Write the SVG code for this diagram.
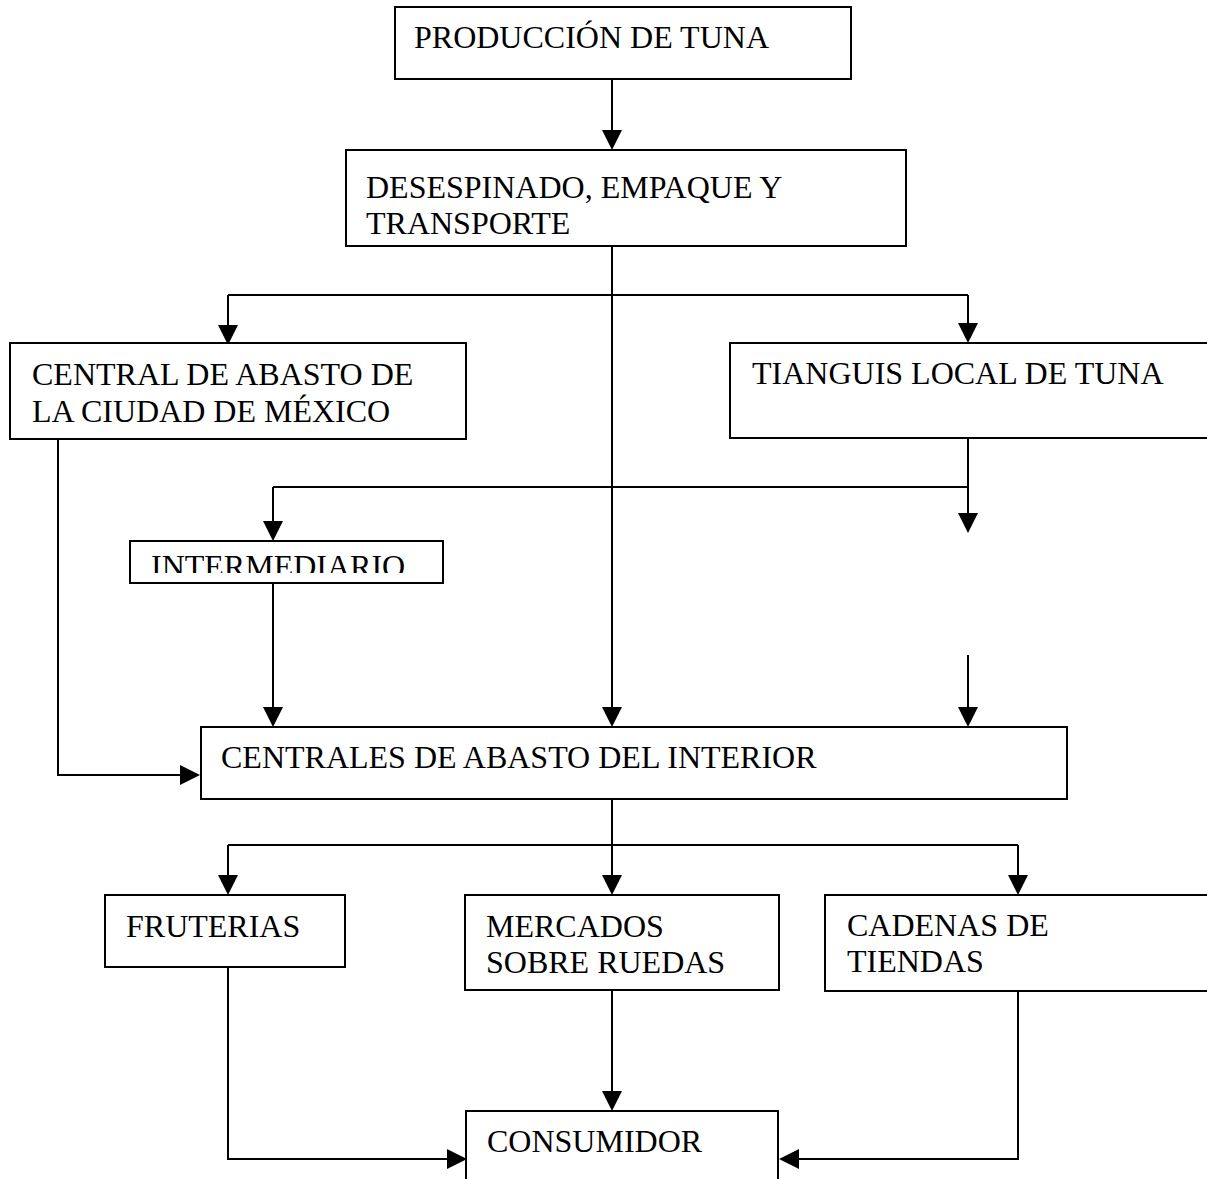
<svg xmlns="http://www.w3.org/2000/svg" width="1207" height="1179" viewBox="0 0 1207 1179">
<style>
.box{fill:#fff;stroke:#000;stroke-width:2}
.t{font-family:"Liberation Serif","Times New Roman",serif;font-size:32px;fill:#000}
.c{fill:none;stroke:#000;stroke-width:2}
.ah{fill:#000}
</style>
<defs>
<clipPath id="clipInt"><rect x="130" y="541" width="314" height="32"/></clipPath>
</defs>
<rect width="1207" height="1179" fill="#fff"/>
<g id="connectors">
<path class="c" d="M612,79V130"/>
<path class="c" d="M612,246V707"/>
<path class="c" d="M228,295H968"/>
<path class="c" d="M228,295V325"/>
<path class="c" d="M968,295V323"/>
<path class="c" d="M58,439V775H180"/>
<path class="c" d="M968,438V513"/>
<path class="c" d="M273,487H968"/>
<path class="c" d="M273,487V521"/>
<path class="c" d="M968,655V707"/>
<path class="c" d="M273,583V707"/>
<path class="c" d="M612,799V845"/>
<path class="c" d="M228,845H1018"/>
<path class="c" d="M228,845V875"/>
<path class="c" d="M612,845V875"/>
<path class="c" d="M1018,845V875"/>
<path class="c" d="M228,967V1159H447"/>
<path class="c" d="M612,990V1091"/>
<path class="c" d="M1018,991V1159H799"/>
<g class="ah">
<path d="M602,130H622L612,150Z"/>
<path d="M602,707H622L612,727Z"/>
<path d="M218,325H238L228,345Z"/>
<path d="M958,323H978L968,343Z"/>
<path d="M180,765V785L200,775Z"/>
<path d="M958,513H978L968,533Z"/>
<path d="M263,521H283L273,541Z"/>
<path d="M958,707H978L968,727Z"/>
<path d="M263,707H283L273,727Z"/>
<path d="M218,875H238L228,895Z"/>
<path d="M602,875H622L612,895Z"/>
<path d="M1008,875H1028L1018,895Z"/>
<path d="M447,1149V1169L467,1159Z"/>
<path d="M602,1091H622L612,1111Z"/>
<path d="M799,1149V1169L779,1159Z"/>
</g>
</g>
<g id="produccion"><rect class="box" x="395" y="7" width="456" height="72"/><text class="t" x="414" y="48">PRODUCCIÓN DE TUNA</text></g>
<g id="desespinado"><rect class="box" x="346" y="150" width="560" height="96"/><text class="t" x="366" y="198">DESESPINADO, EMPAQUE Y</text><text class="t" x="366" y="234">TRANSPORTE</text></g>
<g id="central"><rect class="box" x="10" y="343" width="456" height="96"/><text class="t" x="32" y="385">CENTRAL DE ABASTO DE</text><text class="t" x="32" y="422">LA CIUDAD DE MÉXICO</text></g>
<g id="tianguis"><rect class="box" x="730" y="343" width="500" height="95"/><text class="t" x="752" y="384">TIANGUIS LOCAL DE TUNA</text></g>
<g id="intermediario"><rect class="box" x="130" y="541" width="313" height="42"/><text class="t" x="151" y="577" clip-path="url(#clipInt)">INTERMEDIARIO</text></g>
<g id="centrales"><rect class="box" x="201" y="727" width="866" height="72"/><text class="t" x="221" y="768">CENTRALES DE ABASTO DEL INTERIOR</text></g>
<g id="fruterias"><rect class="box" x="105" y="895" width="240" height="72"/><text class="t" x="126" y="937">FRUTERIAS</text></g>
<g id="mercados"><rect class="box" x="465" y="895" width="314" height="95"/><text class="t" x="486" y="937">MERCADOS</text><text class="t" x="486" y="973">SOBRE RUEDAS</text></g>
<g id="cadenas"><rect class="box" x="825" y="895" width="400" height="96"/><text class="t" x="847" y="936">CADENAS DE</text><text class="t" x="847" y="972">TIENDAS</text></g>
<g id="consumidor"><rect class="box" x="466" y="1111" width="312" height="100"/><text class="t" x="487" y="1152">CONSUMIDOR</text></g>
</svg>
